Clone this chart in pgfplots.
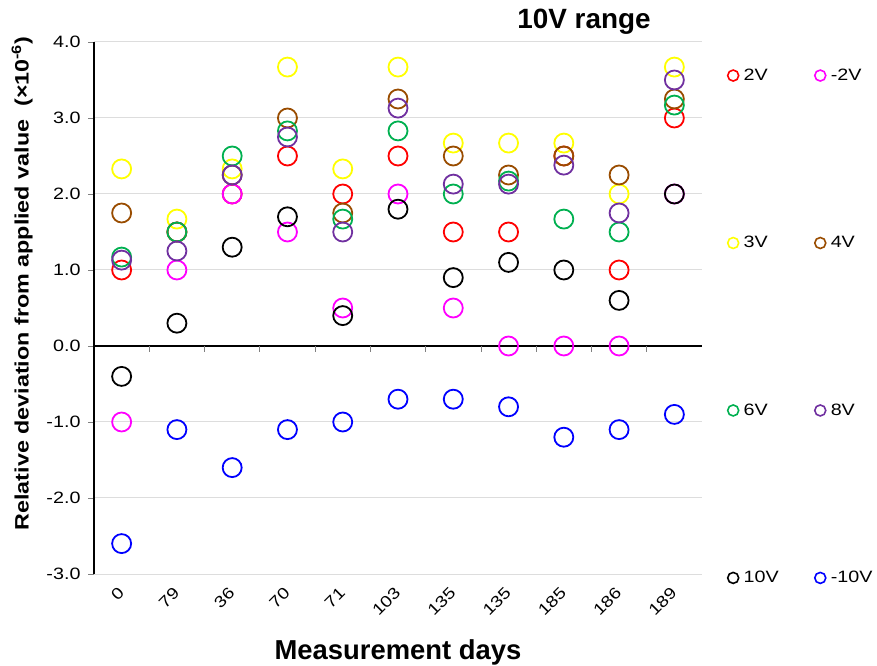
\documentclass[border=0pt]{standalone}
\usepackage{fontspec}
\setmainfont{Liberation Sans}
\newfontfamily\widefont{Liberation Sans}[FakeStretch=1.2]
\usepackage{pgfplots}
\usepackage{pgfplotstable}
\pgfplotsset{compat=1.18}
\definecolor{cRed}{HTML}{FF0000}
\definecolor{cMag}{HTML}{FF00FF}
\definecolor{cYel}{HTML}{FFFF00}
\definecolor{cBrn}{HTML}{994C00}
\definecolor{cGrn}{HTML}{00B050}
\definecolor{cPur}{HTML}{7030A0}
\definecolor{cBlk}{HTML}{000000}
\definecolor{cBlu}{HTML}{0000FF}
\definecolor{gridc}{HTML}{DDDDDD}

\pgfplotstableread{
x  p2   m2   p3   p4   p6   p8   p10  m10
0  1.0  -1.0 2.33 1.75 1.17 1.13 -0.4 -2.6
1  1.5  1.0  1.67 1.5  1.5  1.25 0.3  -1.1
2  2.0  2.0  2.33 2.25 2.5  2.25 1.3  -1.6
3  2.5  1.5  3.67 3.0  2.83 2.75 1.7  -1.1
4  2.0  0.5  2.33 1.75 1.67 1.5  0.4  -1.0
5  2.5  2.0  3.67 3.25 2.83 3.13 1.8  -0.7
6  1.5  0.5  2.67 2.5  2.0  2.13 0.9  -0.7
7  1.5  0.0  2.67 2.25 2.17 2.13 1.1  -0.8
8  2.5  0.0  2.67 2.5  1.67 2.38 1.0  -1.2
9  1.0  0.0  2.0  2.25 1.5  1.75 0.6  -1.1
10 3.0  2.0  3.67 3.25 3.17 3.5  2.0  -0.9
}\datatable

\begin{document}
\begin{tikzpicture}
\useasboundingbox (0,0) rectangle (877bp,666bp);
\begin{axis}[
  at={(94bp,92bp)}, anchor=south west,
  scale only axis, width=608bp, height=532bp,
  xmin=-0.5, xmax=10.5, ymin=-3, ymax=4,
  separate axis lines,
  axis x line*=bottom, axis y line*=left,
  x axis line style={draw=none},
  y axis line style={black, line width=1.2bp, -},
  xtick={0,...,10},
  xticklabels={0,79,36,70,71,103,135,135,185,186,189},
  xtick style={draw=none},
  x tick label style={xshift=2bp, yshift=-14bp, rotate=45, anchor=east,
    font=\widefont\fontsize{16}{18}\selectfont},
  ytick={-3,-2,...,4},
  ytick align=outside,
  major tick length=6bp,
  ytick style={gray, line width=0.8bp},
  y tick label style={font=\widefont\fontsize{16.5}{19}\selectfont, xshift=-4bp},
  yticklabel style={/pgf/number format/.cd, fixed, fixed zerofill, precision=1, assume math mode=true},
  ymajorgrids,
  grid style={gridc, line width=1bp},
  xlabel={Measurement days},
  xlabel style={at={(axis description cs:0.5,-0.1466)}, anchor=center,
    font=\bfseries\fontsize{27.5}{30}\selectfont},
  ylabel={Relative deviation from applied value\ \ (×10\textsuperscript{-6})},
  ylabel style={at={(axis description cs:-0.118,0.546)}, anchor=center, rotate=0,
    font=\widefont\bfseries\fontsize{19.5}{22}\selectfont},
  every axis plot/.append style={only marks, mark=o, mark size=9.5bp, line width=1.8bp},
  legend columns=2,
  legend cell align=left,
  legend style={at={(axis description cs:1.037,0.957)}, anchor=north west, draw=none, fill=none,
    font=\widefont\fontsize{16.5}{19}\selectfont, row sep=150.5bp,
    /tikz/every even column/.append style={column sep=34bp},
    /tikz/every odd column/.append style={column sep=3bp}},
  legend image code/.code={\draw[#1, mark size=5.5bp, line width=1.6bp] plot coordinates {(0bp,0bp)};},
  clip=false,
]
\draw[black, line width=1.2bp] (axis cs:-0.5,0) -- (axis cs:10.5,0);
\pgfplotsinvokeforeach{0.5,1.5,2.5,3.5,4.5,5.5,6.5,7.5,8.5,9.5}{
  \draw[gray, line width=0.8bp] (axis cs:#1,0) -- ([yshift=-6bp]axis cs:#1,0);
}
\addplot[cRed] table[x=x,y=p2]{\datatable}; \addlegendentry{2V}
\addplot[cMag] table[x=x,y=m2]{\datatable}; \addlegendentry{-2V}
\addplot[cYel] table[x=x,y=p3]{\datatable}; \addlegendentry{3V}
\addplot[cBrn] table[x=x,y=p4]{\datatable}; \addlegendentry{4V}
\addplot[cGrn] table[x=x,y=p6]{\datatable}; \addlegendentry{6V}
\addplot[cPur] table[x=x,y=p8]{\datatable}; \addlegendentry{8V}
\addplot[cBlk] table[x=x,y=p10]{\datatable}; \addlegendentry{10V}
\addplot[cBlu] table[x=x,y=m10]{\datatable}; \addlegendentry{-10V}
\node[font=\bfseries\fontsize{28}{30}\selectfont, anchor=center] at (axis description cs:0.806,1.0376) {10V range};
\end{axis}
\end{tikzpicture}
\end{document}
